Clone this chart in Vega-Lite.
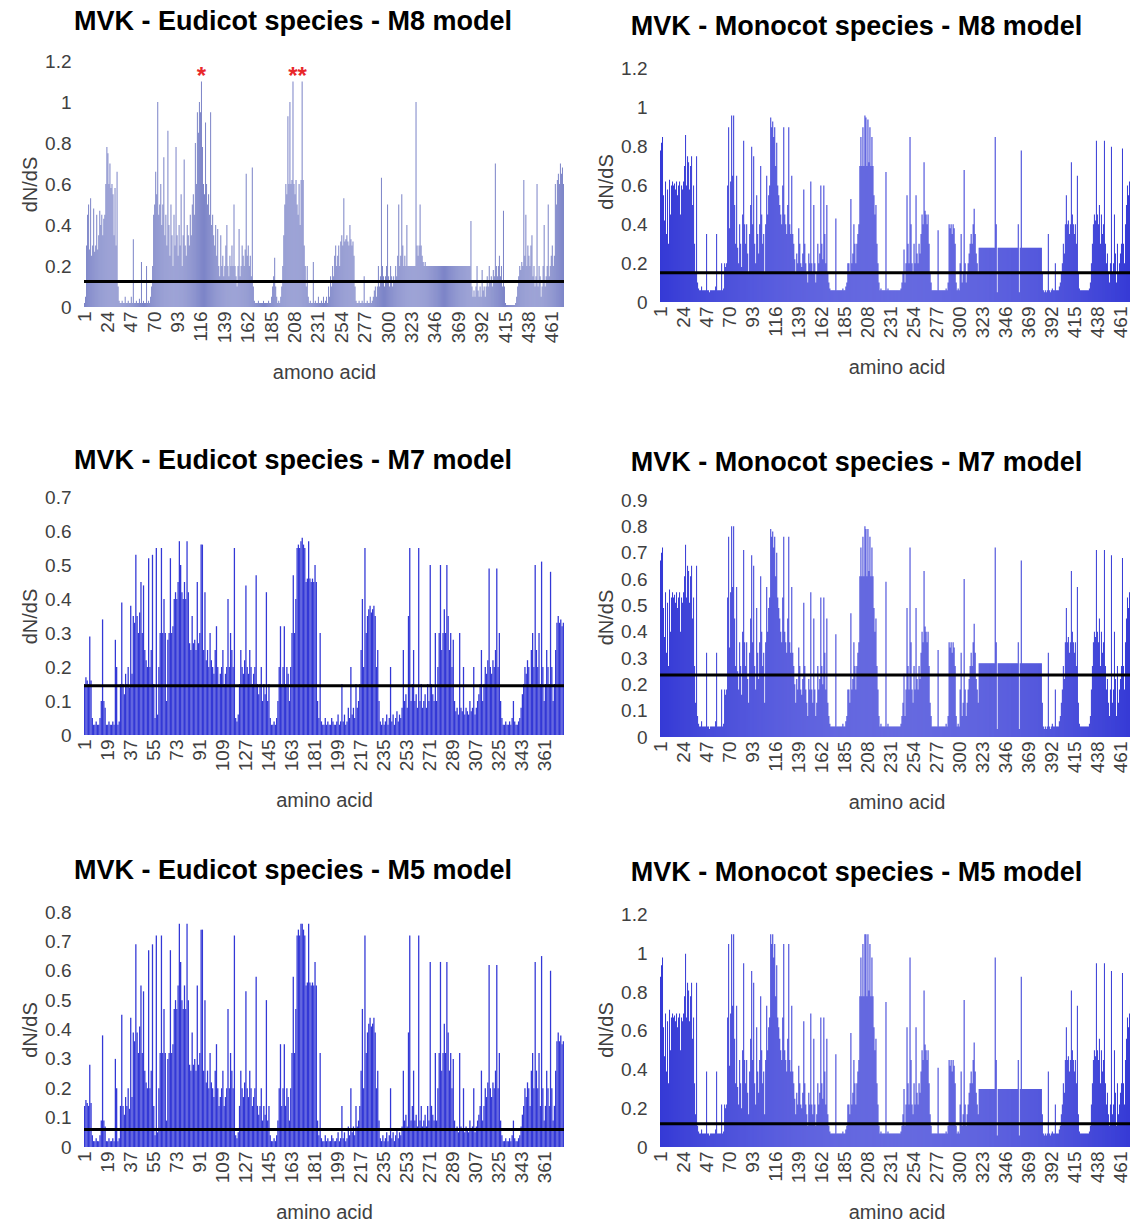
{
"$schema": "https://vega.github.io/schema/vega-lite/v6.json",
"background": "white",
"padding": {"left": 20, "top": 8, "right": 0, "bottom": 0},
"config": {
 "view": {"stroke": null},
 "font": "Liberation Sans",
 "axis": {"labelFont": "Liberation Sans", "labelFontSize": 19, "labelColor": "#404040", "titleFont": "Liberation Sans", "titleFontSize": 20, "titleFontWeight": "normal", "titleColor": "#404040", "grid": false, "ticks": false, "domain": false, "labelOverlap": false, "labelBound": false, "labelFlush": false},
 "axisY": {"tickCount": 20},
 "title": {"font": "Liberation Sans", "fontSize": 27, "fontWeight": "bold", "color": "#000000", "anchor": "middle", "frame": "bounds"}
},
"data": {"format": {"type": "csv", "parse": {"p": "number", "e8": "number", "m8": "number", "m7": "number", "m5": "number", "e7": "number", "e5": "number"}},
"values": "p,e8,m8,m7,m5,e7,e5\n1,.02,.78,.67,.88,.15,.14\n2,.05,.82,.7,.94,.17,.16\n3,.3,.85,.72,.98,.16,.15\n4,.45,.55,.49,.62,.15,.14\n5,.5,.42,.38,.47,.29,.28\n6,.28,.62,.55,.69,.16,.15\n7,.53,.35,.32,.39,.05,.04\n8,.25,.58,.51,.65,.03,.02\n9,.3,.3,.27,.33,.03,.02\n10,.48,.63,.56,.71,.04,.03\n11,.27,.45,.4,.5,.03,.02\n12,.3,.6,.53,.67,.03,.02\n13,.45,.62,.55,.69,.05,.04\n14,.28,.6,.53,.67,.1,.09\n15,.35,.61,.54,.68,.34,.38\n16,.47,.58,.51,.65,.1,.09\n17,.4,.62,.55,.69,.08,.07\n18,.45,.55,.49,.62,.03,.02\n19,.35,.6,.53,.67,.03,.02\n20,.43,.62,.55,.69,.04,.03\n21,.45,.45,.4,.5,.03,.02\n22,.6,.6,.53,.67,.03,.02\n23,.78,.58,.51,.65,.04,.03\n24,.75,.62,.55,.69,.03,.02\n25,.6,.7,.61,.78,.28,.3\n26,.7,.86,.73,1,.2,.2\n27,.58,.6,.53,.67,.03,.02\n28,.6,.75,.65,.85,.04,.03\n29,.55,.72,.63,.81,.15,.14\n30,.35,.58,.51,.65,.39,.45\n31,.58,.7,.61,.78,.15,.14\n32,.3,.75,.65,.85,.12,.11\n33,.66,.5,.45,.56,.18,.17\n34,.1,.6,.53,.67,.15,.14\n35,.03,.3,.27,.33,.2,.2\n36,.02,.15,.13,.17,.14,.13\n37,.02,.75,.65,.85,.38,.44\n38,.03,.1,.08,.11,.18,.17\n39,.02,.07,.05,.08,.35,.39\n40,.02,.06,.04,.07,.33,.36\n41,.05,.06,.04,.07,.53,.69\n42,.02,.08,.06,.09,.35,.39\n43,.02,.06,.04,.07,.3,.32\n44,.03,.06,.04,.07,.36,.41\n45,.02,.06,.04,.07,.45,.55\n46,.02,.06,.04,.07,.3,.32\n47,.05,.35,.32,.39,.44,.53\n48,.02,.06,.04,.07,.25,.26\n49,.33,.06,.04,.07,.22,.22\n50,.02,.05,.03,.06,.2,.2\n51,.02,.06,.04,.07,.52,.67\n52,.03,.06,.04,.07,.2,.2\n53,.02,.06,.04,.07,.25,.26\n54,.02,.06,.04,.07,.53,.69\n55,.04,.06,.04,.07,.15,.14\n56,.02,.08,.06,.09,.05,.04\n57,.22,.35,.32,.39,.55,.72\n58,.02,.06,.04,.07,.06,.05\n59,.03,.06,.04,.07,.2,.2\n60,.02,.06,.04,.07,.3,.32\n61,.02,.06,.04,.07,.55,.72\n62,.2,.2,.18,.22,.3,.32\n63,.02,.06,.04,.07,.4,.47\n64,.03,.07,.05,.08,.3,.32\n65,.02,.2,.18,.22,.1,.09\n66,.05,.18,.16,.2,.28,.3\n67,.1,.2,.18,.22,.3,.32\n68,.2,.6,.53,.67,.52,.67\n69,.45,.9,.76,1.05,.3,.32\n70,.5,.38,.34,.42,.32,.35\n71,.66,.62,.55,.69,.4,.47\n72,.55,.96,.8,1.1,.42,.5\n73,1,.65,.57,.73,.4,.47\n74,.45,.96,.8,1.1,.45,.55\n75,.5,.5,.45,.56,.57,.76\n76,.6,.3,.27,.33,.5,.63\n77,.4,.65,.57,.73,.42,.5\n78,.5,.28,.25,.31,.4,.47\n79,.73,.2,.18,.22,.45,.55\n80,.35,.4,.36,.45,.4,.47\n81,.45,.3,.27,.33,.57,.76\n82,.3,.18,.16,.2,.42,.5\n83,.86,.45,.4,.5,.27,.28\n84,.4,.83,.71,.95,.25,.26\n85,.25,.4,.36,.45,.35,.39\n86,.5,.3,.27,.33,.27,.28\n87,.35,.4,.36,.45,.28,.3\n88,.2,.25,.22,.28,.25,.26\n89,.45,.15,.13,.17,.45,.55\n90,.3,.35,.32,.39,.27,.28\n91,.78,.5,.45,.56,.3,.32\n92,.35,.8,.69,.91,.56,.74\n93,.25,.4,.36,.45,.56,.74\n94,.4,.75,.65,.85,.25,.26\n95,.3,.3,.27,.33,.42,.5\n96,.55,.2,.18,.22,.22,.22\n97,.2,.55,.49,.62,.25,.26\n98,.35,.35,.32,.39,.2,.2\n99,.72,.25,.22,.28,.3,.32\n100,.3,.4,.36,.45,.22,.22\n101,.25,.7,.61,.78,.2,.2\n102,.4,.45,.4,.5,.18,.17\n103,.35,.3,.27,.33,.25,.26\n104,.3,.35,.32,.39,.32,.35\n105,.45,.15,.13,.17,.2,.2\n106,.35,.4,.36,.45,.15,.14\n107,.5,.65,.57,.73,.18,.17\n108,.55,.45,.4,.5,.2,.2\n109,.45,.55,.49,.62,.25,.26\n110,.8,.6,.53,.67,.15,.14\n111,.6,.95,.79,1.1,.18,.17\n112,.95,.9,.76,1.05,.2,.2\n113,.85,.93,.78,1.1,.4,.47\n114,1,.85,.72,.98,.2,.2\n115,.95,.9,.76,1.05,.3,.32\n116,1.1,.7,.61,.78,.25,.26\n117,.78,.82,.7,.94,.2,.2\n118,.6,.6,.53,.67,.55,.72\n119,.55,.55,.49,.62,.05,.04\n120,.9,.5,.45,.56,.04,.03\n121,.6,.45,.4,.5,.06,.05\n122,.5,.4,.36,.45,.15,.14\n123,.55,.6,.53,.67,.25,.26\n124,.45,.9,.76,1.05,.2,.2\n125,.95,.45,.4,.5,.18,.17\n126,.4,.4,.36,.45,.22,.22\n127,.45,.35,.32,.39,.44,.53\n128,.35,.5,.45,.56,.2,.2\n129,.3,.9,.76,1.05,.18,.17\n130,.4,.4,.36,.45,.25,.26\n131,.25,.35,.32,.39,.2,.2\n132,.38,.65,.57,.73,.15,.14\n133,.2,.35,.32,.39,.18,.17\n134,.15,.3,.27,.33,.2,.2\n135,.35,.22,.2,.25,.47,.58\n136,.2,.15,.13,.17,.15,.14\n137,.25,.25,.22,.28,.12,.11\n138,.15,.2,.18,.22,.15,.14\n139,.2,.38,.34,.42,.2,.2\n140,.3,.3,.27,.33,.1,.09\n141,.4,.2,.18,.22,.15,.14\n142,.2,.18,.16,.2,.12,.11\n143,.15,.25,.22,.28,.42,.5\n144,.25,.58,.51,.65,.1,.09\n145,.2,.3,.27,.33,.15,.14\n146,.3,.2,.18,.22,.05,.04\n147,.2,.15,.13,.17,.03,.02\n148,.5,.1,.08,.11,.03,.02\n149,.2,.25,.22,.28,.04,.03\n150,.15,.2,.18,.22,.03,.02\n151,.1,.62,.55,.69,.05,.04\n152,.2,.2,.18,.22,.1,.09\n153,.38,.15,.13,.17,.2,.2\n154,.15,.5,.45,.56,.32,.35\n155,.2,.2,.18,.22,.15,.14\n156,.3,.1,.08,.11,.2,.2\n157,.25,.15,.13,.17,.32,.35\n158,.2,.3,.27,.33,.15,.14\n159,.28,.2,.18,.22,.2,.2\n160,.65,.25,.22,.28,.18,.17\n161,.25,.6,.53,.67,.1,.09\n162,.3,.3,.27,.33,.2,.2\n163,.2,.22,.2,.25,.3,.32\n164,.25,.6,.53,.67,.47,.58\n165,.15,.35,.32,.39,.3,.32\n166,.68,.2,.18,.22,.4,.47\n167,.1,.5,.45,.56,.55,.72\n168,.03,.15,.13,.17,.56,.74\n169,.02,.1,.08,.11,.55,.72\n170,.02,.07,.05,.08,.57,.76\n171,.02,.06,.04,.07,.58,.76\n172,.03,.06,.04,.07,.56,.74\n173,.02,.06,.04,.07,.55,.72\n174,.02,.06,.04,.07,.45,.55\n175,.02,.06,.04,.07,.46,.56\n176,.02,.43,.39,.48,.57,.76\n177,.03,.06,.04,.07,.46,.56\n178,.02,.06,.04,.07,.45,.55\n179,.02,.06,.04,.07,.46,.56\n180,.02,.06,.04,.07,.45,.55\n181,.02,.06,.04,.07,.5,.63\n182,.03,.06,.04,.07,.45,.55\n183,.02,.07,.05,.08,.1,.09\n184,.02,.06,.04,.07,.05,.04\n185,.05,.06,.04,.07,.3,.32\n186,.1,.08,.06,.09,.04,.03\n187,.15,.1,.08,.11,.03,.02\n188,.24,.2,.18,.22,.03,.02\n189,.1,.2,.18,.22,.05,.04\n190,.05,.15,.13,.17,.03,.02\n191,.02,.53,.47,.59,.04,.03\n192,.03,.2,.18,.22,.03,.02\n193,.02,.25,.22,.28,.03,.02\n194,.05,.4,.36,.45,.05,.04\n195,.1,.3,.27,.33,.04,.03\n196,.2,.2,.18,.22,.03,.02\n197,.35,.3,.27,.33,.03,.02\n198,.5,.35,.32,.39,.04,.03\n199,.6,.4,.36,.45,.06,.05\n200,.55,.7,.61,.78,.03,.02\n201,.93,.85,.72,.98,.04,.03\n202,.6,.7,.61,.78,.15,.14\n203,1,.9,.76,1.05,.04,.03\n204,.6,.7,.61,.78,.06,.05\n205,.62,.96,.8,1.1,.03,.02\n206,1.1,.95,.79,1.1,.04,.03\n207,.6,.7,.61,.78,.08,.07\n208,.55,.94,.79,1.1,.05,.04\n209,.62,.72,.63,.81,.2,.2\n210,.5,.9,.76,1.05,.06,.05\n211,.45,.7,.61,.78,.08,.07\n212,.6,.85,.72,.98,.05,.04\n213,.4,.7,.61,.78,.15,.14\n214,.62,.55,.49,.62,.08,.07\n215,1.1,.45,.4,.5,.1,.09\n216,.62,.5,.45,.56,.15,.14\n217,.3,.3,.27,.33,.25,.26\n218,.2,.2,.18,.22,.4,.47\n219,.1,.1,.08,.11,.2,.2\n220,.2,.06,.04,.07,.55,.72\n221,.05,.07,.05,.08,.3,.32\n222,.02,.06,.04,.07,.35,.39\n223,.03,.06,.04,.07,.37,.42\n224,.02,.06,.04,.07,.38,.44\n225,.02,.06,.04,.07,.36,.41\n226,.22,.67,.59,.75,.37,.42\n227,.02,.06,.04,.07,.38,.44\n228,.03,.07,.05,.08,.35,.39\n229,.02,.06,.04,.07,.2,.2\n230,.02,.06,.04,.07,.25,.26\n231,.05,.06,.04,.07,.1,.09\n232,.02,.06,.04,.07,.04,.03\n233,.02,.06,.04,.07,.03,.02\n234,.03,.06,.04,.07,.05,.04\n235,.02,.06,.04,.07,.03,.02\n236,.05,.06,.04,.07,.04,.03\n237,.02,.06,.04,.07,.06,.05\n238,.03,.06,.04,.07,.03,.02\n239,.05,.06,.04,.07,.05,.04\n240,.02,.06,.04,.07,.2,.2\n241,.1,.07,.05,.08,.04,.03\n242,.05,.1,.08,.11,.06,.05\n243,.15,.15,.13,.17,.03,.02\n244,.1,.27,.24,.3,.05,.04\n245,.2,.1,.08,.11,.07,.06\n246,.15,.2,.18,.22,.04,.03\n247,.25,.55,.49,.62,.06,.05\n248,.3,.3,.27,.33,.05,.04\n249,.2,.2,.18,.22,.08,.07\n250,.25,.85,.72,.98,.25,.26\n251,.3,.4,.36,.45,.1,.09\n252,.2,.2,.18,.22,.12,.11\n253,.32,.15,.13,.17,.08,.07\n254,.35,.3,.27,.33,.35,.39\n255,.3,.2,.18,.22,.55,.72\n256,.53,.55,.49,.62,.1,.09\n257,.32,.25,.22,.28,.15,.14\n258,.33,.2,.18,.22,.25,.26\n259,.35,.3,.27,.33,.1,.09\n260,.32,.25,.22,.28,.12,.11\n261,.3,.35,.32,.39,.08,.07\n262,.4,.45,.4,.5,.55,.72\n263,.33,.4,.36,.45,.1,.09\n264,.3,.72,.63,.81,.15,.14\n265,.32,.47,.42,.53,.08,.07\n266,.25,.45,.4,.5,.1,.09\n267,.1,.4,.36,.45,.12,.11\n268,.03,.45,.4,.5,.08,.07\n269,.02,.3,.27,.33,.15,.14\n270,.02,.15,.13,.17,.1,.09\n271,.03,.1,.08,.11,.5,.63\n272,.02,.06,.04,.07,.15,.14\n273,.02,.06,.04,.07,.12,.11\n274,.03,.06,.04,.07,.1,.09\n275,.02,.06,.04,.07,.3,.32\n276,.15,.06,.04,.07,.1,.09\n277,.02,.06,.04,.07,.2,.2\n278,.02,.37,.33,.41,.3,.32\n279,.03,.06,.04,.07,.5,.63\n280,.02,.06,.04,.07,.25,.26\n281,.02,.06,.04,.07,.3,.32\n282,.05,.06,.04,.07,.37,.42\n283,.02,.06,.04,.07,.3,.32\n284,.03,.06,.04,.07,.5,.63\n285,.05,.06,.04,.07,.35,.39\n286,.08,.07,.05,.08,.25,.26\n287,.1,.06,.04,.07,.3,.32\n288,.05,.1,.08,.11,.2,.2\n289,.1,.4,.36,.45,.28,.3\n290,.2,.38,.34,.42,.1,.09\n291,.1,.4,.36,.45,.07,.06\n292,.15,.35,.32,.39,.08,.07\n293,.63,.4,.36,.45,.06,.05\n294,.2,.38,.34,.42,.3,.32\n295,.15,.3,.27,.33,.08,.07\n296,.1,.1,.08,.11,.07,.06\n297,.15,.06,.04,.07,.2,.2\n298,.2,.07,.05,.08,.06,.05\n299,.5,.06,.04,.07,.08,.07\n300,.15,.2,.18,.22,.07,.06\n301,.1,.35,.32,.39,.06,.05\n302,.2,.1,.08,.11,.1,.09\n303,.15,.15,.13,.17,.07,.06\n304,.1,.68,.6,.76,.08,.07\n305,.15,.2,.18,.22,.2,.2\n306,.12,.1,.08,.11,.06,.05\n307,.2,.15,.13,.17,.08,.07\n308,.15,.2,.18,.22,.1,.09\n309,.25,.25,.22,.28,.12,.11\n310,.5,.3,.27,.33,.15,.14\n311,.2,.35,.32,.39,.25,.26\n312,.25,.3,.27,.33,.1,.09\n313,.55,.4,.36,.45,.15,.14\n314,.3,.48,.43,.54,.2,.2\n315,.2,.35,.32,.39,.18,.17\n316,.25,.25,.22,.28,.22,.22\n317,.2,.2,.18,.22,.49,.62\n318,.4,.15,.13,.17,.2,.2\n319,.2,.28,.28,.3,.18,.17\n320,.2,.28,.28,.3,.22,.22\n321,.2,.28,.28,.3,.2,.2\n322,.2,.28,.28,.3,.25,.26\n323,.2,.28,.28,.3,.49,.62\n324,.2,.28,.28,.3,.2,.2\n325,.2,.28,.28,.3,.3,.32\n326,.2,.28,.28,.3,.1,.09\n327,1,.28,.28,.3,.05,.04\n328,.3,.28,.28,.3,.03,.02\n329,.25,.28,.28,.3,.03,.02\n330,.3,.28,.28,.3,.04,.03\n331,.5,.28,.28,.3,.03,.02\n332,.3,.28,.28,.3,.03,.02\n333,.25,.28,.28,.3,.04,.03\n334,.22,.28,.28,.3,.03,.02\n335,.2,.85,.72,.98,.05,.04\n336,.22,.4,.36,.45,.1,.09\n337,.2,.05,.03,.06,.04,.03\n338,.2,.28,.28,.3,.03,.02\n339,.2,.28,.28,.3,.03,.02\n340,.2,.28,.28,.3,.04,.03\n341,.2,.28,.28,.3,.05,.04\n342,.2,.28,.28,.3,.08,.07\n343,.2,.28,.28,.3,.12,.11\n344,.2,.28,.28,.3,.15,.14\n345,.2,.28,.28,.3,.2,.2\n346,.2,.28,.28,.3,.18,.17\n347,.2,.28,.28,.3,.22,.22\n348,.2,.28,.28,.3,.2,.2\n349,.2,.28,.28,.3,.15,.14\n350,.2,.28,.28,.3,.25,.26\n351,.2,.28,.28,.3,.3,.32\n352,.2,.28,.28,.3,.2,.2\n353,.2,.28,.28,.3,.5,.63\n354,.2,.28,.28,.3,.25,.26\n355,.2,.28,.28,.3,.2,.2\n356,.2,.28,.28,.3,.3,.32\n357,.2,.28,.28,.3,.15,.14\n358,.2,.4,.36,.45,.51,.65\n359,.2,.05,.03,.06,.2,.2\n360,.2,.28,.28,.3,.1,.09\n361,.2,.78,.67,.88,.15,.14\n362,.2,.28,.28,.3,.25,.26\n363,.2,.28,.28,.3,.2,.2\n364,.2,.28,.28,.3,.15,.14\n365,.2,.28,.28,.3,.48,.6\n366,.2,.28,.28,.3,.2,.2\n367,.2,.28,.28,.3,.1,.09\n368,.2,.28,.28,.3,.15,.14\n369,.2,.28,.28,.3,.25,.26\n370,.2,.28,.28,.3,.33,.36\n371,.2,.28,.28,.3,.35,.39\n372,.2,.28,.28,.3,.33,.36\n373,.2,.28,.28,.3,.34,.38\n374,.2,.28,.28,.3,.32,.35\n375,.2,.28,.28,.3,.33,.36\n376,.2,.28,.28,.3,,\n377,.2,.28,.28,.3,,\n378,.2,.28,.28,.3,,\n379,.2,.28,.28,.3,,\n380,.2,.28,.28,.3,,\n381,.42,.28,.28,.3,,\n382,.1,.15,.13,.17,,\n383,.05,.06,.04,.07,,\n384,.08,.05,.03,.06,,\n385,.05,.06,.04,.07,,\n386,.1,.05,.03,.06,,\n387,.2,.06,.04,.07,,\n388,.08,.35,.32,.39,,\n389,.05,.06,.04,.07,,\n390,.1,.05,.03,.06,,\n391,.05,.06,.04,.07,,\n392,.18,.07,.05,.08,,\n393,.08,.06,.04,.07,,\n394,.1,.06,.04,.07,,\n395,.05,.2,.18,.22,,\n396,.1,.06,.04,.07,,\n397,.15,.06,.04,.07,,\n398,.1,.06,.04,.07,,\n399,.2,.08,.06,.09,,\n400,.12,.1,.08,.11,,\n401,.15,.15,.13,.17,,\n402,.1,.2,.18,.22,,\n403,.18,.3,.27,.33,,\n404,.15,.25,.22,.28,,\n405,.7,.4,.36,.45,,\n406,.2,.55,.49,.62,,\n407,.15,.4,.36,.45,,\n408,.2,.42,.38,.47,,\n409,.25,.35,.32,.39,,\n410,.15,.4,.36,.45,,\n411,.2,.72,.63,.81,,\n412,.1,.45,.4,.5,,\n413,.47,.4,.36,.45,,\n414,.1,.35,.32,.39,,\n415,.02,.4,.36,.45,,\n416,.01,.3,.27,.33,,\n417,.01,.65,.57,.73,,\n418,.01,.15,.13,.17,,\n419,.01,.07,.05,.08,,\n420,.01,.06,.04,.07,,\n421,.01,.06,.04,.07,,\n422,.01,.06,.04,.07,,\n423,.01,.06,.04,.07,,\n424,.01,.06,.04,.07,,\n425,.02,.06,.04,.07,,\n426,.05,.06,.04,.07,,\n427,.1,.06,.04,.07,,\n428,.15,.06,.04,.07,,\n429,.2,.07,.05,.08,,\n430,.18,.1,.08,.11,,\n431,.22,.2,.18,.22,,\n432,.2,.3,.27,.33,,\n433,.62,.4,.36,.45,,\n434,.25,.45,.4,.5,,\n435,.45,.42,.38,.47,,\n436,.2,.83,.71,.95,,\n437,.3,.45,.4,.5,,\n438,.25,.4,.36,.45,,\n439,.2,.5,.45,.56,,\n440,.3,.3,.27,.33,,\n441,.35,.45,.4,.5,,\n442,.15,.35,.32,.39,,\n443,.2,.4,.36,.45,,\n444,.1,.83,.71,.95,,\n445,.15,.3,.27,.33,,\n446,.6,.2,.18,.22,,\n447,.1,.25,.22,.28,,\n448,.2,.15,.13,.17,,\n449,.15,.1,.08,.11,,\n450,.05,.2,.18,.22,,\n451,.1,.8,.69,.91,,\n452,.2,.15,.13,.17,,\n453,.4,.2,.18,.22,,\n454,.1,.45,.4,.5,,\n455,.15,.25,.22,.28,,\n456,.2,.1,.08,.11,,\n457,.5,.3,.27,.33,,\n458,.15,.15,.13,.17,,\n459,.2,.2,.18,.22,,\n460,.25,.25,.22,.28,,\n461,.3,.3,.27,.33,,\n462,.2,.79,.68,.9,,\n463,.25,.3,.27,.33,,\n464,.6,.2,.18,.22,,\n465,.5,.4,.36,.45,,\n466,.62,.5,.45,.56,,\n467,.65,.6,.53,.67,,\n468,.6,.55,.49,.62,,\n469,.7,.62,.55,.69,,\n470,.65,.65,.57,.73,,\n471,.68,.6,.53,.67,,\n472,.6,.63,.56,.71,,"},
"spacing": 64,
"vconcat": [
 {"spacing": 30, "hconcat": [
  {"width": 480, "height": 246, "title": {"text": "MVK - Eudicot species - M8 model", "offset": 16},
   "layer": [
    {"mark": {"type": "bar", "color": "#7d85c8"},
     "encoding": {
      "x": {"field": "p", "type": "ordinal", "scale": {"paddingInner": 0, "paddingOuter": 0.01}, "axis": {"title": "amono acid", "values": [1,24,47,70,93,116,139,162,185,208,231,254,277,300,323,346,369,392,415,438,461], "labelAngle": -90, "labelPadding": 4, "titlePadding": 20}},
      "y": {"field": "e8", "type": "quantitative", "scale": {"domain": [0, 1.2], "nice": false}, "axis": {"title": "dN/dS", "values": [0,0.2,0.4,0.6,0.8,1,1.2], "format": "~g", "labelPadding": 13, "titlePadding": 4}}}},
    {"data": {"values": [{"mean": 0.125}]}, "mark": {"type": "rule", "color": "#000000", "strokeWidth": 3}, "encoding": {"y": {"field": "mean", "type": "quantitative"}}},
    {"data": {"values": [{"p": 116, "v": 1.1}, {"p": 206, "v": 1.1}, {"p": 215, "v": 1.1}]}, "mark": {"type": "text", "text": "*", "color": "#e8282b", "fontSize": 24, "fontWeight": "bold", "baseline": "alphabetic", "dy": 2},
     "encoding": {"x": {"field": "p", "type": "ordinal"}, "y": {"field": "v", "type": "quantitative"}}}
   ]},
  {"width": 473, "height": 241, "title": {"text": "MVK - Monocot species - M8 model", "offset": 19, "dx": -9},
   "layer": [
    {"mark": {"type": "bar", "color": "#3338d6"},
     "encoding": {
      "x": {"field": "p", "type": "ordinal", "scale": {"paddingInner": 0, "paddingOuter": 0.01}, "axis": {"title": "amino acid", "values": [1,24,47,70,93,116,139,162,185,208,231,254,277,300,323,346,369,392,415,438,461], "labelAngle": -90, "labelPadding": 4, "titlePadding": 20}},
      "y": {"field": "m8", "type": "quantitative", "scale": {"domain": [0, 1.2412], "nice": false}, "axis": {"title": "dN/dS", "values": [0,0.2,0.4,0.6,0.8,1,1.2], "format": "~g", "labelPadding": 13, "titlePadding": 4}}}},
    {"data": {"values": [{"mean": 0.15}]}, "mark": {"type": "rule", "color": "#000000", "strokeWidth": 3}, "encoding": {"y": {"field": "mean", "type": "quantitative"}}}
   ]}
 ]},
 {"spacing": 44, "vconcat": [
  {"spacing": 30, "hconcat": [
   {"width": 480, "height": 238, "title": {"text": "MVK - Eudicot species - M7 model", "offset": 13},
    "layer": [
     {"transform": [{"filter": "datum.p <= 375"}], "mark": {"type": "bar", "color": "#3338d6"},
      "encoding": {
       "x": {"field": "p", "type": "ordinal", "scale": {"paddingInner": 0, "paddingOuter": 0.01}, "axis": {"title": "amino acid", "values": [1,19,37,55,73,91,109,127,145,163,181,199,217,235,253,271,289,307,325,343,361], "labelAngle": -90, "labelPadding": 4, "titlePadding": 20}},
       "y": {"field": "e7", "type": "quantitative", "scale": {"domain": [0, 0.7], "nice": false}, "axis": {"title": "dN/dS", "values": [0,0.1,0.2,0.3,0.4,0.5,0.6,0.7], "format": "~g", "labelPadding": 13, "titlePadding": 4}}}},
     {"data": {"values": [{"mean": 0.145}]}, "mark": {"type": "rule", "color": "#000000", "strokeWidth": 3}, "encoding": {"y": {"field": "mean", "type": "quantitative"}}}
    ]},
   {"width": 473, "height": 240, "title": {"text": "MVK - Monocot species - M7 model", "offset": 14, "dx": -9},
    "layer": [
     {"mark": {"type": "bar", "color": "#3338d6"},
      "encoding": {
       "x": {"field": "p", "type": "ordinal", "scale": {"paddingInner": 0, "paddingOuter": 0.01}, "axis": {"title": "amino acid", "values": [1,24,47,70,93,116,139,162,185,208,231,254,277,300,323,346,369,392,415,438,461], "labelAngle": -90, "labelPadding": 4, "titlePadding": 20}},
       "y": {"field": "m7", "type": "quantitative", "scale": {"domain": [0, 0.9114], "nice": false}, "axis": {"title": "dN/dS", "values": [0,0.1,0.2,0.3,0.4,0.5,0.6,0.7,0.8,0.9], "format": "~g", "labelPadding": 13, "titlePadding": 4}}}},
     {"data": {"values": [{"mean": 0.235}]}, "mark": {"type": "rule", "color": "#000000", "strokeWidth": 3}, "encoding": {"y": {"field": "mean", "type": "quantitative"}}}
    ]}
  ]},
  {"spacing": 30, "hconcat": [
   {"width": 480, "height": 235, "title": {"text": "MVK - Eudicot species - M5 model", "offset": 18},
    "layer": [
     {"transform": [{"filter": "datum.p <= 375"}], "mark": {"type": "bar", "color": "#3338d6"},
      "encoding": {
       "x": {"field": "p", "type": "ordinal", "scale": {"paddingInner": 0, "paddingOuter": 0.01}, "axis": {"title": "amino acid", "values": [1,19,37,55,73,91,109,127,145,163,181,199,217,235,253,271,289,307,325,343,361], "labelAngle": -90, "labelPadding": 4, "titlePadding": 20}},
       "y": {"field": "e5", "type": "quantitative", "scale": {"domain": [0, 0.8], "nice": false}, "axis": {"title": "dN/dS", "values": [0,0.1,0.2,0.3,0.4,0.5,0.6,0.7,0.8], "format": "~g", "labelPadding": 13, "titlePadding": 4}}}},
     {"data": {"values": [{"mean": 0.06}]}, "mark": {"type": "rule", "color": "#000000", "strokeWidth": 3}, "encoding": {"y": {"field": "mean", "type": "quantitative"}}}
    ]},
   {"width": 473, "height": 235, "title": {"text": "MVK - Monocot species - M5 model", "offset": 19, "dx": -9},
    "layer": [
     {"mark": {"type": "bar", "color": "#3338d6"},
      "encoding": {
       "x": {"field": "p", "type": "ordinal", "scale": {"paddingInner": 0, "paddingOuter": 0.01}, "axis": {"title": "amino acid", "values": [1,24,47,70,93,116,139,162,185,208,231,254,277,300,323,346,369,392,415,438,461], "labelAngle": -90, "labelPadding": 4, "titlePadding": 20}},
       "y": {"field": "m5", "type": "quantitative", "scale": {"domain": [0, 1.2155], "nice": false}, "axis": {"title": "dN/dS", "values": [0,0.2,0.4,0.6,0.8,1,1.2], "format": "~g", "labelPadding": 13, "titlePadding": 4}}}},
     {"data": {"values": [{"mean": 0.12}]}, "mark": {"type": "rule", "color": "#000000", "strokeWidth": 3}, "encoding": {"y": {"field": "mean", "type": "quantitative"}}}
    ]}
  ]}
 ]}
]
}
